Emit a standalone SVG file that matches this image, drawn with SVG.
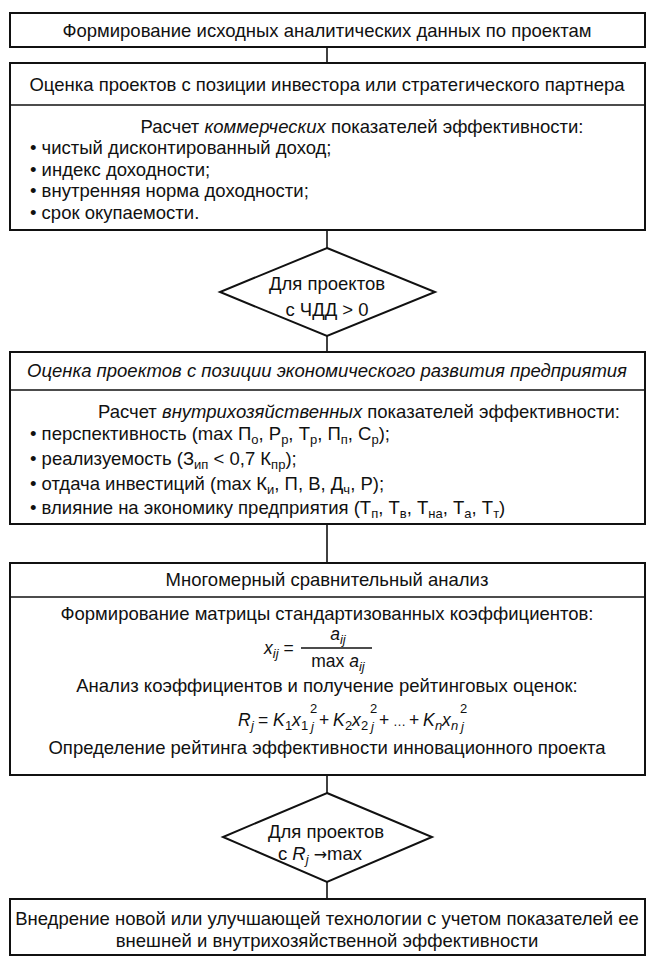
<svg xmlns="http://www.w3.org/2000/svg" width="655" height="964" viewBox="0 0 655 964">
<style>
.t{font-family:"Liberation Sans",Arial,sans-serif;font-size:18.5px;fill:#111}
.f{font-size:17.5px}
.c{text-anchor:middle}
.i{font-style:italic}
.n{font-style:normal}
.s{font-size:13px}
.ar{font-family:"DejaVu Sans",sans-serif;font-size:16px;font-style:normal}
.box{fill:#fff;stroke:#111;stroke-width:2}
.dv{stroke:#111;stroke-width:1.5}
.conn{stroke:#111;stroke-width:1.6;fill:none}
</style>
<rect width="655" height="964" fill="#fff"/>
<g id="connectors">
<line class="conn" x1="327" y1="47" x2="327" y2="63"/>
<line class="conn" x1="327" y1="230" x2="327" y2="248"/>
<line class="conn" x1="327" y1="336" x2="327" y2="352"/>
<line class="conn" x1="327" y1="524" x2="327" y2="563"/>
<line class="conn" x1="327" y1="775" x2="327" y2="793"/>
<line class="conn" x1="327" y1="882" x2="327" y2="899"/>
</g>
<g id="n1">
<rect class="box" x="10" y="13" width="635" height="34"/>
<text class="t c" x="327" y="37">Формирование исходных аналитических данных по проектам</text>
</g>
<g id="n2">
<rect class="box" x="10" y="63" width="635" height="167"/>
<line class="dv" x1="10" y1="105" x2="645" y2="105"/>
<text class="t c" x="327" y="91">Оценка проектов с позиции инвестора или стратегического партнера</text>
<text class="t c" x="362" y="133">Расчет <tspan class="i">коммерческих</tspan> показателей эффективности:</text>
<text class="t" x="30" y="154">•  чистый дисконтированный доход;</text>
<text class="t" x="30" y="176">•  индекс доходности;</text>
<text class="t" x="30" y="197">•  внутренняя норма доходности;</text>
<text class="t" x="30" y="219">•  срок  окупаемости.</text>
</g>
<g id="d1">
<polygon class="box" points="327,248 435,292 327,336 220,292"/>
<text class="t c" x="327" y="290">Для проектов</text>
<text class="t c" x="327" y="316">с ЧДД &gt; 0</text>
</g>
<g id="n3">
<rect class="box" x="10" y="352" width="635" height="172"/>
<line class="dv" x1="10" y1="390" x2="645" y2="390"/>
<text class="t c i" x="327" y="377">Оценка проектов с позиции экономического развития предприятия</text>
<text class="t" x="98" y="418">Расчет <tspan class="i">внутрихозяйственных</tspan> показателей эффективности:</text>
<text class="t" x="30" y="440">•  перспективность (max П<tspan class="s" dy="4">о</tspan><tspan dy="-4">, Р</tspan><tspan class="s" dy="4">р</tspan><tspan dy="-4">, Т</tspan><tspan class="s" dy="4">р</tspan><tspan dy="-4">, П</tspan><tspan class="s" dy="4">п</tspan><tspan dy="-4">, С</tspan><tspan class="s" dy="4">р</tspan><tspan dy="-4">);</tspan></text>
<text class="t" x="30" y="465">• реализуемость (З<tspan class="s" dy="4">ип</tspan><tspan dy="-4"> &lt; 0,7 К</tspan><tspan class="s" dy="4">пр</tspan><tspan dy="-4">);</tspan></text>
<text class="t" x="30" y="490">• отдача инвестиций  (max К<tspan class="s" dy="4">и</tspan><tspan dy="-4">, П, В, Д</tspan><tspan class="s" dy="4">ч</tspan><tspan dy="-4">, Р);</tspan></text>
<text class="t" x="30" y="514">• влияние на экономику предприятия (Т<tspan class="s" dy="4">п</tspan><tspan dy="-4">, Т</tspan><tspan class="s" dy="4">в</tspan><tspan dy="-4">, Т</tspan><tspan class="s" dy="4">на</tspan><tspan dy="-4">, Т</tspan><tspan class="s" dy="4">а</tspan><tspan dy="-4">, Т</tspan><tspan class="s" dy="4">т</tspan><tspan dy="-4">)</tspan></text>
</g>
<g id="n4">
<rect class="box" x="10" y="563" width="635" height="212"/>
<line class="dv" x1="10" y1="597" x2="645" y2="597"/>
<text class="t c" x="327" y="586">Многомерный сравнительный анализ</text>
<text class="t c" x="327" y="620">Формирование матрицы стандартизованных коэффициентов:</text>
<text class="t f i" x="264" y="654">x<tspan class="s" dy="4">ij</tspan><tspan class="n" dy="-4"> =</tspan></text>
<line class="dv" x1="301" y1="648" x2="372" y2="648" stroke-width="1.3"/>
<text class="t f c i" x="338" y="640">a<tspan class="s" dy="4">ij</tspan></text>
<text class="t f c" x="338" y="667">max <tspan class="i">a</tspan><tspan class="s i" dy="4">ij</tspan></text>
<text class="t c" x="327" y="692">Анализ коэффициентов и получение рейтинговых оценок:</text>
<text class="t f i" y="726"><tspan x="238">R</tspan><tspan class="s" x="251" y="730">j</tspan><tspan class="n" x="258" y="726">=</tspan><tspan x="273">K</tspan><tspan class="s n" x="285" y="730">1</tspan><tspan x="292" y="726">x</tspan><tspan class="s n" x="301" y="730">1</tspan><tspan class="s n" x="310" y="713">2</tspan><tspan class="s" x="311" y="731">j</tspan><tspan class="n" x="319" y="726">+</tspan><tspan x="333">K</tspan><tspan class="s n" x="345" y="730">2</tspan><tspan x="352" y="726">x</tspan><tspan class="s n" x="361" y="730">2</tspan><tspan class="s n" x="370" y="713">2</tspan><tspan class="s" x="371" y="731">j</tspan><tspan class="n" x="379" y="726">+</tspan><tspan class="n s" x="393">…</tspan><tspan class="n" x="409">+</tspan><tspan x="423">K</tspan><tspan class="s" x="435" y="730">n</tspan><tspan x="442" y="726">x</tspan><tspan class="s" x="451" y="730">n</tspan><tspan class="s n" x="460" y="713">2</tspan><tspan class="s" x="461" y="731">j</tspan></text>
<text class="t c" x="327" y="754">Определение рейтинга эффективности инновационного проекта</text>
</g>
<g id="d2">
<polygon class="box" points="327,793 432,837 327,882 223,837"/>
<text class="t c" x="326" y="838">Для проектов</text>
<text class="t c" x="320" y="860">с <tspan class="i">R</tspan><tspan class="s i" dy="4">j</tspan><tspan class="ar" dy="-4"> →</tspan><tspan>max</tspan></text>
</g>
<g id="n5">
<rect class="box" x="10" y="899" width="635" height="56"/>
<text class="t c" x="327" y="925">Внедрение новой или улучшающей технологии с учетом показателей ее</text>
<text class="t c" x="327" y="947">внешней и внутрихозяйственной эффективности</text>
</g>
</svg>
